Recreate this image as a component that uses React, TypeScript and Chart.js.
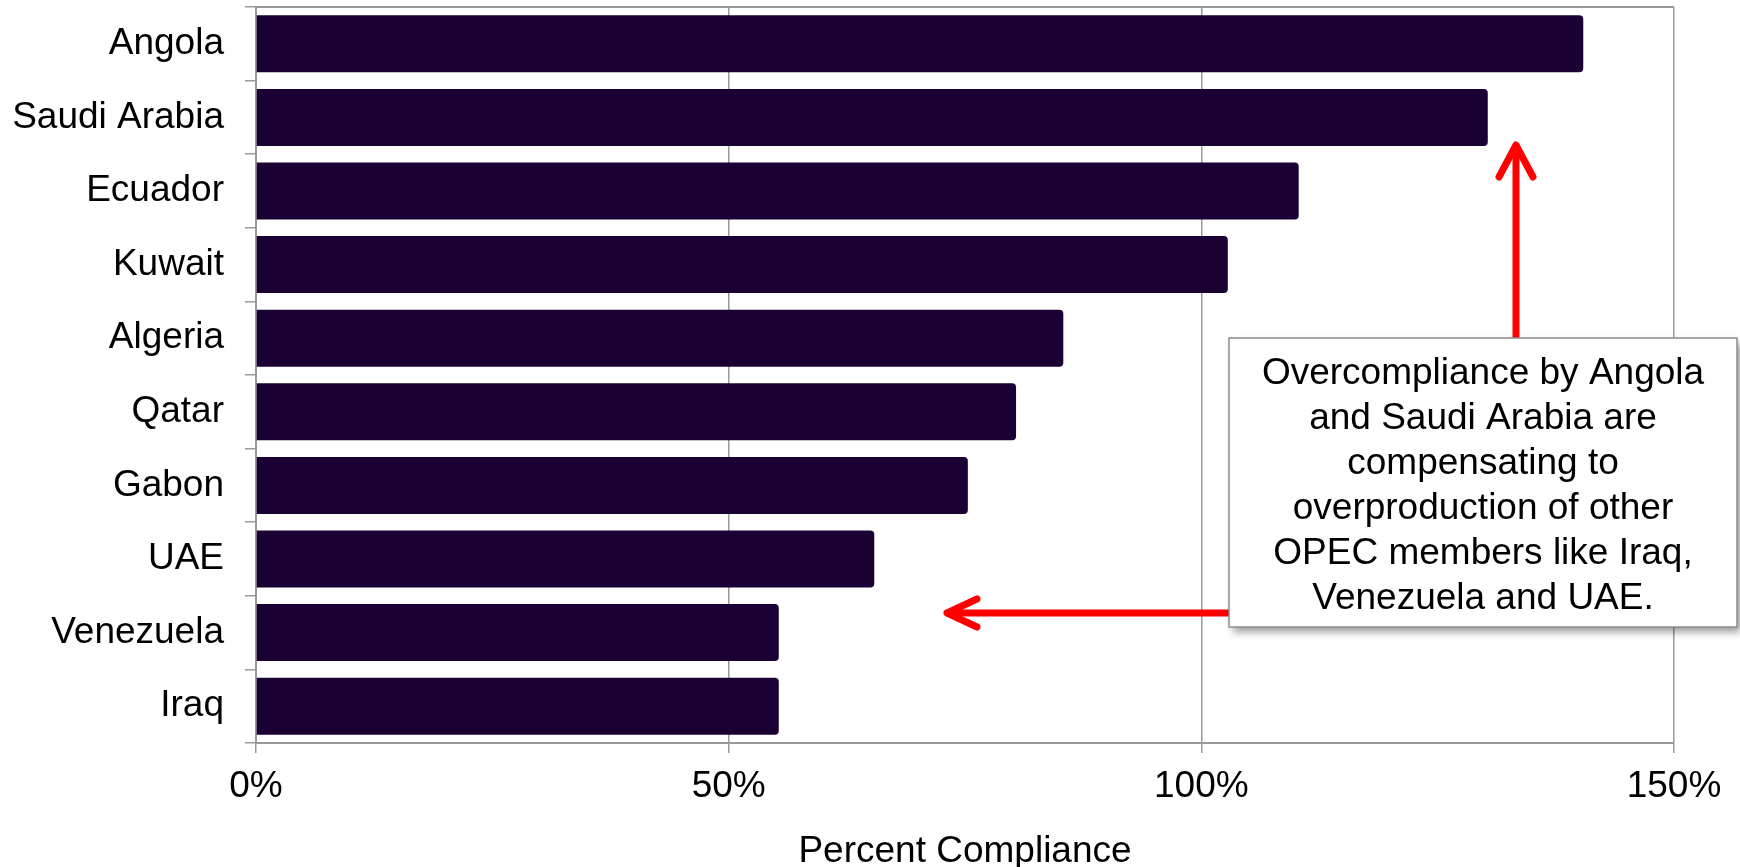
import { useEffect, useRef } from 'react';
import { Chart, registerables } from 'chart.js';

Chart.register(...registerables);

const FONT = '"Liberation Sans", Arial, Helvetica, sans-serif';

const categories = ['Angola', 'Saudi Arabia', 'Ecuador', 'Kuwait', 'Algeria', 'Qatar', 'Gabon', 'UAE', 'Venezuela', 'Iraq'];
const compliance = [140.4, 130.3, 110.3, 102.8, 85.4, 80.4, 75.3, 65.4, 55.3, 55.3];
const xTickValues = [0, 50, 100, 150];
const axisTitle = 'Percent Compliance';
const noteLines = [
  'Overcompliance by Angola',
  'and Saudi Arabia are',
  'compensating to',
  'overproduction of other',
  'OPEC members like Iraq,',
  'Venezuela and UAE.',
];

const GRID = '#999999';
const BAR = '#1a0033';

export default function App() {
  const ref = useRef<HTMLCanvasElement>(null);

  useEffect(() => {
    if (!ref.current) return;

    const framePlugin = {
      id: 'frame',
      beforeDatasetsDraw(chart: any) {
        const { ctx, chartArea } = chart;
        ctx.save();
        ctx.strokeStyle = GRID;
        ctx.lineWidth = 2;
        ctx.beginPath();
        ctx.moveTo(chartArea.left, chartArea.top);
        ctx.lineTo(chartArea.right, chartArea.top);
        ctx.stroke();
        ctx.restore();
      },
    };

    const notePlugin = {
      id: 'note',
      afterDraw(chart: any) {
        const { ctx } = chart;
        const boxL = 1229, boxT = 338, boxR = 1737, boxB = 627;
        ctx.save();
        ctx.strokeStyle = '#ff0000';
        ctx.lineWidth = 7;
        ctx.lineCap = 'round';
        ctx.lineJoin = 'round';
        // vertical arrow
        ctx.beginPath();
        ctx.moveTo(1516, boxT);
        ctx.lineTo(1516, 147);
        ctx.stroke();
        ctx.beginPath();
        ctx.moveTo(1499, 177);
        ctx.lineTo(1516, 145);
        ctx.lineTo(1533, 177);
        ctx.stroke();
        // horizontal arrow
        ctx.beginPath();
        ctx.moveTo(boxL, 613);
        ctx.lineTo(949, 613);
        ctx.stroke();
        ctx.beginPath();
        ctx.moveTo(977, 599);
        ctx.lineTo(947, 613);
        ctx.lineTo(977, 627);
        ctx.stroke();

        // box with shadow
        ctx.shadowColor = 'rgba(0,0,0,0.4)';
        ctx.shadowBlur = 8;
        ctx.shadowOffsetX = 4;
        ctx.shadowOffsetY = 5;
        ctx.fillStyle = '#ffffff';
        ctx.fillRect(boxL, boxT, boxR - boxL, boxB - boxT);
        ctx.shadowColor = 'transparent';
        ctx.shadowBlur = 0;
        ctx.shadowOffsetX = 0;
        ctx.shadowOffsetY = 0;
        ctx.strokeStyle = '#8c8c8c';
        ctx.lineWidth = 1.5;
        ctx.strokeRect(boxL, boxT, boxR - boxL, boxB - boxT);

        ctx.fillStyle = '#000000';
        ctx.font = `37px ${FONT}`;
        ctx.textAlign = 'center';
        ctx.textBaseline = 'alphabetic';
        const cx = (boxL + boxR) / 2;
        noteLines.forEach((line, i) => {
          ctx.fillText(line, cx, 384 + i * 45);
        });
        ctx.restore();
      },
    };

    const chart = new Chart(ref.current, {
      type: 'bar',
      data: {
        labels: categories,
        datasets: [
          {
            data: compliance,
            backgroundColor: BAR,
            borderWidth: 0,
            borderRadius: 4,
            barPercentage: 0.775,
            categoryPercentage: 1,
          },
        ],
      },
      options: {
        indexAxis: 'y',
        animation: false,
        responsive: true,
        maintainAspectRatio: false,
        devicePixelRatio: 1,
        layout: { padding: { top: 7, right: 66, left: 0, bottom: 0 } },
        plugins: {
          legend: { display: false },
          tooltip: { enabled: false },
        },
        scales: {
          x: {
            type: 'linear',
            min: 0,
            max: 150,
            afterBuildTicks: (scale: any) => {
              scale.ticks = xTickValues.map((v) => ({ value: v }));
            },
            ticks: {
              callback: (v: any) => `${v}%`,
              font: { family: FONT, size: 37 },
              color: '#000000',
              padding: 12,
              maxRotation: 0,
            },
            grid: { color: GRID, lineWidth: 1.5, tickLength: 10 },
            border: { color: GRID, width: 2 },
            title: {
              display: true,
              text: axisTitle,
              color: '#000000',
              font: { family: FONT, size: 37, lineHeight: 1 },
              padding: { top: 0, bottom: -3 },
            },
            afterFit: (scale: any) => {
              scale.height = 124;
            },
          },
          y: {
            type: 'category',
            offset: true,
            grid: {
              offset: true,
              drawOnChartArea: false,
              tickLength: 11,
              color: GRID,
              lineWidth: 1.5,
            },
            border: { color: GRID, width: 2 },
            ticks: {
              font: { family: FONT, size: 37 },
              color: '#000000',
              padding: 21,
              autoSkip: false,
            },
            afterFit: (scale: any) => {
              scale.width = 256;
              scale.paddingTop = 0;
              scale.paddingBottom = 0;
            },
          },
        },
      },
      plugins: [framePlugin, notePlugin],
    });

    return () => chart.destroy();
  }, []);

  return (
    <div style={{ position: 'absolute', left: 0, top: 0, width: 1740, height: 867 }}>
      <canvas ref={ref} />
    </div>
  );
}
